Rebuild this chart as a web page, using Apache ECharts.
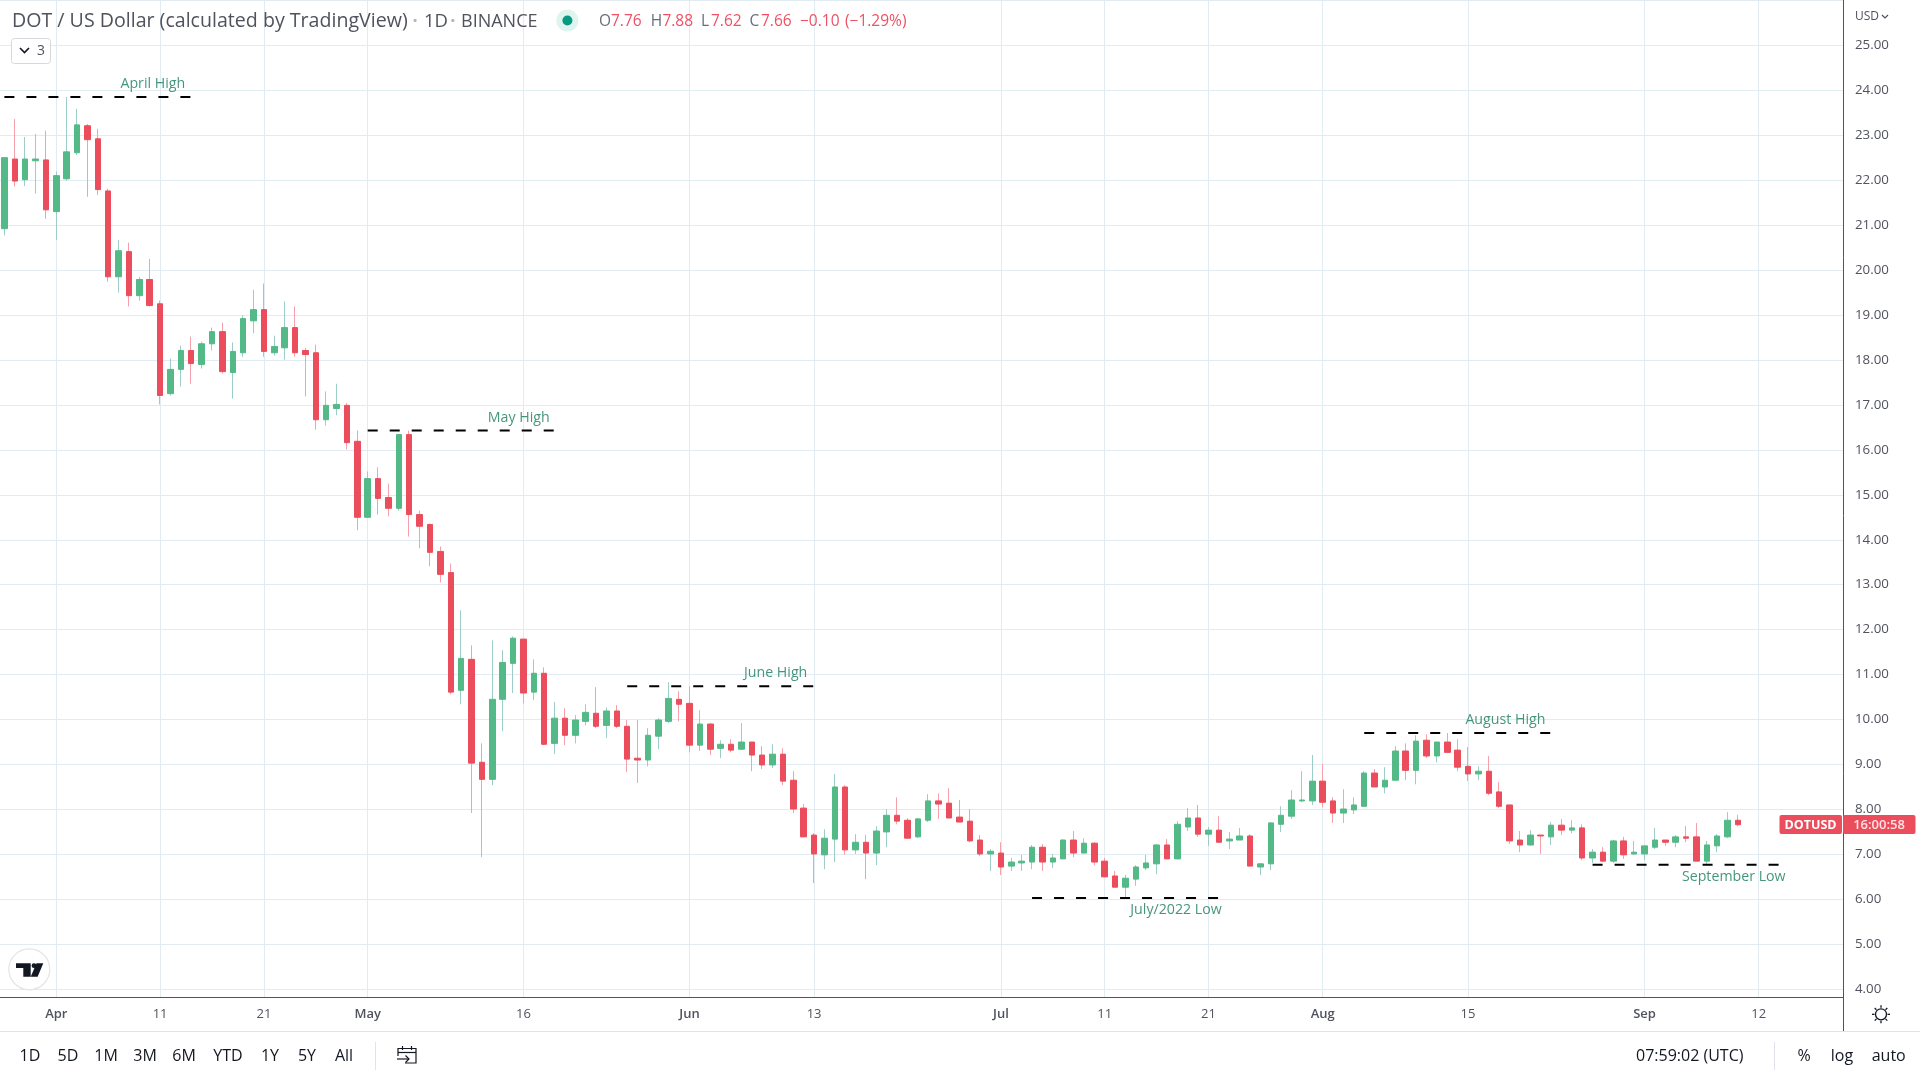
<!DOCTYPE html>
<html>
<head>
<meta charset="utf-8">
<title>DOT / US Dollar</title>
<style>html,body{margin:0;padding:0;background:#fff;overflow:hidden}#chart{width:1920px;height:1080px}</style>
<script src="https://cdn.jsdelivr.net/npm/echarts@6/dist/echarts.min.js"></script>
</head>
<body>
<div id="chart"></div>
<script>
const firstDate = Date.UTC(2022, 2, 27);
const opens = [20.92,22.47,22.01,22.43,22.45,21.30,22.03,22.61,23.21,22.92,
21.76,19.85,20.41,19.43,19.79,19.25,17.25,17.79,18.21,17.90,
18.36,18.63,17.72,18.16,18.87,19.12,18.16,18.27,18.72,18.21,
18.16,16.67,16.92,16.99,16.19,14.50,15.36,14.94,14.70,16.34,
14.56,14.34,13.74,13.27,10.65,11.34,9.05,8.67,10.45,11.25,
11.79,10.61,11.03,9.47,10.03,9.65,9.96,10.14,9.87,10.19,
9.85,9.14,9.10,9.63,9.96,10.45,10.36,9.43,9.90,9.36,
9.45,9.34,9.50,9.21,8.99,9.23,8.65,8.03,7.43,6.99,
7.34,8.50,7.10,7.27,7.03,7.50,7.87,7.76,7.39,7.76,
8.19,8.14,7.83,7.74,7.32,7.01,7.03,6.74,6.81,6.83,
7.16,6.83,6.90,7.32,7.03,7.25,6.85,6.52,6.27,6.45,
6.70,6.79,7.21,6.90,7.61,7.81,7.45,7.54,7.30,7.32,
7.41,6.72,6.79,7.67,7.85,8.19,8.19,8.63,8.19,7.92,
7.99,8.07,8.81,8.50,8.65,9.30,8.87,9.54,9.19,9.50,
9.32,8.96,8.79,8.85,8.39,8.10,7.32,7.21,7.43,7.39,
7.65,7.54,7.59,6.92,7.05,6.85,7.30,7.01,7.01,7.16,
7.32,7.27,7.39,7.39,6.85,7.19,7.39,7.76];
const closes = [22.50,21.98,22.47,22.47,21.34,22.10,22.63,23.23,22.90,21.79,
19.85,20.43,19.43,19.79,19.21,17.21,17.79,18.21,17.92,18.36,
18.63,17.74,18.19,18.92,19.12,18.19,18.30,18.72,18.16,18.12,
16.67,16.99,17.01,16.16,14.50,15.36,14.92,14.70,16.34,14.56,
14.30,13.72,13.23,10.61,11.36,9.03,8.67,10.45,11.27,11.81,
10.59,11.03,9.45,10.03,9.65,9.99,10.16,9.85,10.19,9.85,
9.12,9.10,9.65,9.99,10.47,10.34,9.43,9.90,9.34,9.45,
9.32,9.50,9.21,8.99,9.23,8.63,8.01,7.39,7.01,7.36,
8.50,7.10,7.27,7.03,7.52,7.87,7.74,7.36,7.79,8.19,
8.12,7.81,7.72,7.30,7.01,7.07,6.72,6.83,6.85,7.16,
6.83,6.92,7.32,7.03,7.25,6.83,6.50,6.27,6.47,6.72,
6.81,7.21,6.90,7.67,7.81,7.45,7.54,7.27,7.34,7.41,
6.74,6.79,7.70,7.87,8.21,8.21,8.63,8.16,7.92,8.01,
8.10,8.81,8.50,8.65,9.30,8.87,9.52,9.19,9.50,9.27,
8.94,8.79,8.85,8.36,8.07,7.30,7.21,7.43,7.41,7.65,
7.54,7.59,6.92,7.05,6.85,7.30,6.99,7.05,7.19,7.32,
7.27,7.39,7.36,6.85,7.21,7.41,7.76,7.66];
const lows = [20.77,21.86,21.87,21.70,21.14,20.67,21.99,22.56,21.63,21.67,
19.74,19.50,19.19,19.32,19.19,17.01,17.21,17.41,17.47,17.81,
18.21,17.70,17.14,18.07,18.59,18.07,18.10,18.01,18.07,17.19,
16.45,16.54,16.77,16.01,14.21,14.50,14.56,14.52,14.65,14.07,
13.81,13.41,13.05,10.56,10.34,7.92,6.94,8.54,9.74,10.59,
10.36,10.43,9.43,9.23,9.43,9.47,9.87,9.81,9.59,9.81,
8.83,8.59,8.96,9.34,9.92,9.96,9.27,9.30,9.21,9.14,
9.27,9.32,8.85,8.90,8.92,8.54,7.92,7.39,6.36,6.67,
6.83,6.99,7.01,6.45,6.76,7.16,7.67,7.36,7.36,7.72,
7.79,7.81,7.72,7.27,6.96,6.63,6.54,6.63,6.63,6.67,
6.63,6.70,6.90,6.94,7.03,6.76,6.50,6.27,6.03,6.30,
6.65,6.56,6.90,6.90,7.52,7.39,7.19,7.27,7.12,7.32,
6.74,6.54,6.65,7.50,7.79,8.16,8.10,8.05,7.70,7.70,
7.90,8.07,8.50,8.36,8.65,8.65,8.56,9.14,9.05,9.27,
8.85,8.63,8.65,8.32,8.03,7.23,7.05,7.19,7.01,7.21,
7.43,7.47,6.87,6.81,6.83,6.81,6.90,6.99,6.87,7.12,
7.19,7.16,7.27,6.85,6.79,7.05,7.36,7.62];
const highs = [22.50,23.36,22.96,23.03,23.10,22.19,23.85,23.59,23.25,23.14,
21.81,20.67,20.61,19.85,20.25,19.32,18.03,18.32,18.52,18.41,
18.72,18.83,18.39,18.99,19.56,19.70,18.54,19.30,19.19,18.27,
18.34,17.30,17.47,17.04,16.43,15.52,15.61,15.25,16.34,16.43,
14.65,14.36,13.85,13.47,12.43,11.65,9.47,11.76,11.54,11.85,
11.79,11.34,11.16,10.39,10.25,10.10,10.34,10.72,10.27,10.32,
9.99,9.99,9.81,10.03,10.83,10.63,10.74,10.21,9.92,9.54,
9.56,9.92,9.50,9.41,9.45,9.36,8.85,8.12,7.47,7.56,
8.79,8.54,7.45,7.43,7.63,8.01,8.27,7.81,7.81,8.34,
8.36,8.47,8.21,8.01,7.43,7.12,7.27,6.92,6.99,7.21,
7.23,7.01,7.34,7.52,7.36,7.27,6.92,6.63,6.54,6.76,
6.99,7.23,7.34,7.74,8.03,8.10,7.61,7.85,7.50,7.59,
7.45,6.81,7.72,8.07,8.43,8.85,9.21,9.01,8.27,8.45,
8.27,8.85,8.90,8.94,9.41,9.47,9.65,9.67,9.50,9.70,
9.56,9.39,8.96,9.19,8.61,8.10,7.52,7.54,7.43,7.72,
7.79,7.76,7.67,7.12,7.16,7.32,7.39,7.30,7.19,7.59,
7.32,7.43,7.63,7.70,7.30,7.45,7.94,7.88];

const tickDates = ['2022-04-01','2022-04-11','2022-04-21','2022-05-01','2022-05-16','2022-06-01','2022-06-13','2022-07-01','2022-07-11','2022-07-21','2022-08-01','2022-08-15','2022-09-01','2022-09-12'];
const tickLabels = ['Apr','11','21','May','16','Jun','13','Jul','11','21','Aug','15','Sep','12'];

const noteTexts = ['April High','May High','June High','July/2022 Low','August High','September Low'];
const noteLevels = [23.85,16.43,10.74,6.03,9.70,6.77];
const noteStarts = ['2022-03-27','2022-05-01','2022-05-26','2022-07-04','2022-08-05','2022-08-27'];
const noteEnds = ['2022-04-14','2022-05-19','2022-06-13','2022-07-22','2022-08-23','2022-09-14'];
const noteLabelDays = [14.3,49.55,74.3,112.87,144.6,166.6];
const noteLabelPrices = [24.13,16.72,11.03,5.76,9.98,6.50];

const dayOf = d => (Date.parse(d + 'T00:00:00Z') - firstDate) / 864e5;
const tickDays = tickDates.map(dayOf);

const UP = '#53b987', DOWN = '#eb4d5c', UP_WICK = '#9ccdc8', DOWN_WICK = '#f5a0ab';
const AXIS_TEXT = '#50535e', LINE = '#50535e', GRID = '#e1ecf2';
const FONT = '"Open Sans", sans-serif';

const wickData = opens.map((o, i) => [i, o, closes[i], lows[i], highs[i]]);
const bodyData = opens.map((o, i) => [i, o, closes[i], Math.min(o, closes[i]), Math.max(o, closes[i])]);

const noteLines = noteTexts.map((t, k) => ({
  type: 'line', name: t, silent: true, showSymbol: false, animation: false, z: 4, clip: false,
  data: [[dayOf(noteStarts[k]), noteLevels[k]], [dayOf(noteEnds[k]), noteLevels[k]]],
  lineStyle: { color: '#000', width: 2, type: [10, 12] }
}));

const t = (text, x, y, o) => ({ type: 'text', z: 100, silent: true, x, y, style: Object.assign({
  text, fill: '#131722', font: '15.5px ' + FONT, textAlign: 'left', textVerticalAlign: 'middle' }, o || {}) });
const ln = (x1, y1, x2, y2, stroke, lineWidth) => ({ type: 'line', z: 100, silent: true, shape: { x1, y1, x2, y2 }, style: { stroke, lineWidth: lineWidth || 1 } });
const pl = (points, stroke, lineWidth) => ({ type: 'polyline', z: 100, silent: true, shape: { points }, style: { stroke, lineWidth: lineWidth || 1.2, fill: 'none' } });
const pg = (points, fill) => ({ type: 'polygon', z: 101, silent: true, shape: { points }, style: { fill } });

const RED = '#ef5065', GREY = '#6a6d78';
const chrome = [
  ln(0, 997.5, 1844, 997.5, LINE, 1), ln(1843.5, 0, 1843.5, 1031, LINE, 1), ln(0, 1031.5, 1920, 1031.5, '#e0e3eb', 1),
  t('DOT / US Dollar (calculated by TradingView)', 12, 21.5, { font: '19.6px ' + FONT, fill: '#50535e' }),
  t('·', 415, 21.5, { font: 'bold 18px ' + FONT, fill: '#b2b5be', textAlign: 'center' }),
  t('1D', 424, 21.5, { font: '18.5px ' + FONT, fill: '#50535e' }),
  t('·', 452.7, 21.5, { font: 'bold 18px ' + FONT, fill: '#b2b5be', textAlign: 'center' }),
  t('BINANCE', 461, 21.5, { font: '18px ' + FONT, fill: '#50535e' }),
  { type: 'circle', z: 100, silent: true, shape: { cx: 567.4, cy: 20.5, r: 11 }, style: { fill: '#dff3ef' } },
  { type: 'circle', z: 101, silent: true, shape: { cx: 567.4, cy: 20.5, r: 5 }, style: { fill: '#089981' } },
  t('O', 599, 22, { fill: GREY }), t('7.76', 611, 22, { fill: RED }),
  t('H', 650.7, 22, { fill: GREY }), t('7.88', 662.4, 22, { fill: RED }),
  t('L', 701, 22, { fill: GREY }), t('7.62', 711, 22, { fill: RED }),
  t('C', 749.5, 22, { fill: GREY }), t('7.66', 761, 22, { fill: RED }),
  t('−0.10', 800, 22, { fill: RED }), t('(−1.29%)', 845, 22, { fill: RED }),
  { type: 'rect', z: 100, silent: true, shape: { x: 11.5, y: 38.5, width: 39, height: 25, r: 3 }, style: { fill: '#fff', stroke: '#d6d8de', lineWidth: 1 } },
  pl([[20, 48], [24.5, 52.5], [29, 48]], '#131722', 1.6),
  t('3', 37, 51, { font: '14px ' + FONT, fill: '#50535e' }),
  t('USD', 1855, 17, { font: '12px ' + FONT, fill: '#50535e' }),
  pl([[1882, 15], [1885, 18], [1888, 15]], '#50535e', 1.2),
  { type: 'rect', z: 100, silent: true, shape: { x: 1779.5, y: 815, width: 62.5, height: 19, r: 2 }, style: { fill: DOWN } },
  { type: 'rect', z: 100, silent: true, shape: { x: 1843, y: 815, width: 72.5, height: 19, r: 2 }, style: { fill: DOWN } },
  t('DOTUSD', 1810.5, 825, { font: 'bold 12.5px ' + FONT, fill: '#fff', textAlign: 'center' }),
  t('16:00:58', 1879, 825, { font: '600 13px ' + FONT, fill: '#fde3e6', textAlign: 'center' }),
  { type: 'circle', z: 100, silent: true, shape: { cx: 29.3, cy: 969.3, r: 20.5 }, style: { fill: '#fff', stroke: '#e4e4e6', lineWidth: 1.2 } },
  pg([[16, 963.3], [30.7, 963.3], [30.7, 976.7], [23.3, 976.7], [23.3, 968], [16, 968]], '#131722'),
  { type: 'circle', z: 101, silent: true, shape: { cx: 34, cy: 965.7, r: 2.4 }, style: { fill: '#131722' } },
  pg([[36.5, 963.3], [43.3, 963.3], [37.6, 976.7], [30.7, 976.7]], '#131722'),
  ln(375.5, 1042, 375.5, 1070, '#e0e3eb', 1), ln(1774.5, 1042, 1774.5, 1070, '#e0e3eb', 1),
  pl([[398, 1056], [398, 1048.5], [416, 1048.5], [416, 1063], [405, 1063]], '#131722'),
  ln(398, 1052.5, 416, 1052.5, '#131722', 1.2), ln(402.5, 1046, 402.5, 1050, '#131722', 1.2), ln(411.5, 1046, 411.5, 1050, '#131722', 1.2),
  pl([[397, 1059], [409, 1059]], '#131722'), pl([[405.5, 1055.5], [409, 1059], [405.5, 1062.5]], '#131722'),
  t('07:59:02 (UTC)', 1636, 1056, { font: '16px ' + FONT }),
  t('%', 1804, 1056, { font: '16px ' + FONT, textAlign: 'center' }),
  t('log', 1842, 1056, { font: '16px ' + FONT, textAlign: 'center' }),
  t('auto', 1888.7, 1056, { font: '16px ' + FONT, textAlign: 'center' }),
  { type: 'circle', z: 100, silent: true, shape: { cx: 1881, cy: 1014.3, r: 5.5 }, style: { fill: 'none', stroke: '#131722', lineWidth: 1.3 } }
];
['1D','5D','1M','3M','6M','YTD','1Y','5Y','All'].forEach((s, k) => {
  chrome.push(t(s, [30, 68, 106, 145, 184, 228, 270, 307, 344][k], 1056, { font: '16px ' + FONT, textAlign: 'center' }));
});
[[0,-1],[.7,-.7],[1,0],[.7,.7],[0,1],[-.7,.7],[-1,0],[-.7,-.7]].forEach(v => {
  chrome.push(ln(1881 + v[0] * 6.5, 1014.3 + v[1] * 6.5, 1881 + v[0] * 9, 1014.3 + v[1] * 9, '#131722', 1.3));
});

const chart = echarts.init(document.getElementById('chart'), null, { renderer: 'canvas' });
chart.setOption({
  animation: false,
  backgroundColor: '#fff',
  graphic: { elements: chrome },
  grid: { left: 0, top: 0.35, width: 1844, height: 988.9, containLabel: false },
  xAxis: {
    type: 'value', min: -0.424, max: 177.22, position: 'bottom',
    axisLine: { show: false },
    axisTick: { show: true, length: 8, lineStyle: { color: GRID, width: 1 }, customValues: tickDays },
    splitLine: { show: true, lineStyle: { color: GRID, width: 1 } },
    minorTick: { show: false },
    axisLabel: {
      show: true, customValues: tickDays, margin: 19, hideOverlap: false, showMinLabel: true, showMaxLabel: true,
      formatter: v => { const s = tickLabels[tickDays.indexOf(v)] || ''; return /\d/.test(s) ? '{n|' + s + '}' : '{m|' + s + '}'; },
      rich: {
        n: { fontFamily: FONT, fontSize: 13, color: AXIS_TEXT },
        m: { fontFamily: FONT, fontSize: 13, fontWeight: 600, color: AXIS_TEXT }
      }
    }
  },
  yAxis: {
    type: 'value', position: 'right', min: 4, max: 26, interval: 1,
    axisLine: { show: false }, axisTick: { show: false },
    splitLine: { show: true, lineStyle: { color: GRID, width: 1 } },
    axisLabel: {
      show: true, margin: 11, color: AXIS_TEXT, fontFamily: FONT, fontSize: 13.3,
      formatter: v => v >= 26 ? '' : v.toFixed(2)
    }
  },
  series: [
    { type: 'candlestick', name: 'wick', silent: true, z: 2, barWidth: 1, data: wickData, encode: { x: 0, y: [1, 2, 3, 4] },
      itemStyle: { color: UP_WICK, color0: DOWN_WICK, borderColor: UP_WICK, borderColor0: DOWN_WICK, borderWidth: 1 } },
    { type: 'candlestick', name: 'DOTUSD', silent: true, z: 3, barWidth: 6, data: bodyData, encode: { x: 0, y: [1, 2, 3, 4] },
      itemStyle: { color: UP, color0: DOWN, borderColor: UP, borderColor0: DOWN, borderWidth: 1 } },
    ...noteLines,
    { type: 'scatter', name: 'notes', silent: true, z: 5, symbolSize: 1, itemStyle: { color: 'transparent' },
      data: noteTexts.map((n, k) => ({ name: n, value: [noteLabelDays[k], noteLabelPrices[k]] })),
      label: { show: true, position: 'inside', formatter: '{b}', color: '#177a5e', fontFamily: FONT, fontSize: 14.2, align: 'center', verticalAlign: 'middle' } }
  ]
});
</script>
</body>
</html>
